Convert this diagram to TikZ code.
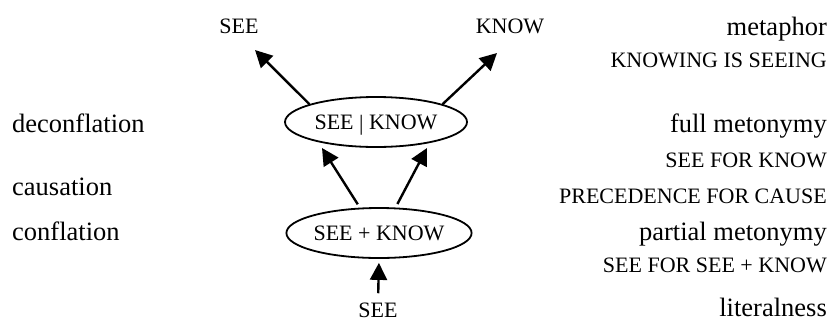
\documentclass[tikz,border=0pt]{standalone}
\usepackage{fontspec}
\setmainfont{Liberation Serif}
\usetikzlibrary{shapes.geometric,arrows.meta}

\begin{document}
\begin{tikzpicture}[x=1pt,y=-1pt,
  caps/.style={font=\fontsize{22}{24}\selectfont, inner sep=0pt},
  word/.style={font=\fontsize{26.5}{28}\selectfont, inner sep=0pt},
  sense/.style={ellipse, draw, line width=1.8pt, inner sep=0pt,
    minimum height=50pt, font=\fontsize{22}{24}\selectfont,
    text height=14.5pt, text depth=0pt},
  link/.style={-{Triangle[length=17pt,width=17pt]}, line width=2.4pt}]
\useasboundingbox (0,0) rectangle (834,322);

% concept nodes
\node[caps, anchor=base] (seeTop)  at (239,33)  {SEE};
\node[caps, anchor=base] (knowTop) at (510,33)  {KNOW};
\node[sense, minimum width=182pt] (split) at (376,122) {SEE \raisebox{-1pt}{|} KNOW};
\node[sense, minimum width=174pt] (fused) at (379,233) {SEE + KNOW};
\node[caps, anchor=base] (seeBot)  at (378,317) {SEE};

% arrow tips
\coordinate (tipSee)  at (255,50);
\coordinate (tipKnow) at (497,53);
\coordinate (tipL)    at (322,148);
\coordinate (tipR)    at (427,148);

% connectors
\draw[link] (split.165) -- (tipSee);
\draw[link] (split.15)  -- (tipKnow);
\draw[link, shorten <=4pt] (fused.127) -- (tipL);
\draw[link, shorten <=4pt] (fused.57)  -- (tipR);
\draw[link, shorten <=9pt, shorten >=4pt] (seeBot.north) -- (fused.south);

% left column: processes
\node[word, anchor=base west] (deconf) at (12,132) {deconflation};
\node[word, anchor=base west] (caus)   at (12,195) {causation};
\node[word, anchor=base west] (conf)   at (12,240) {conflation};

% right column: figures of speech
\node[word, anchor=base east] (meta)    at (827,35)  {metaphor};
\node[caps, anchor=base east] (metaEx)  at (827,67)  {KNOWING IS SEEING};
\node[word, anchor=base east] (fullMet) at (827,132) {full metonymy};
\node[caps, anchor=base east] (fullEx)  at (827,167) {SEE FOR KNOW};
\node[caps, anchor=base east] (causEx)  at (827,203) {PRECEDENCE FOR CAUSE};
\node[word, anchor=base east] (partMet) at (827,240) {partial metonymy};
\node[caps, anchor=base east] (partEx)  at (827,272) {SEE FOR SEE + KNOW};
\node[word, anchor=base east] (lit)     at (827,316) {literalness};
\end{tikzpicture}
\end{document}
